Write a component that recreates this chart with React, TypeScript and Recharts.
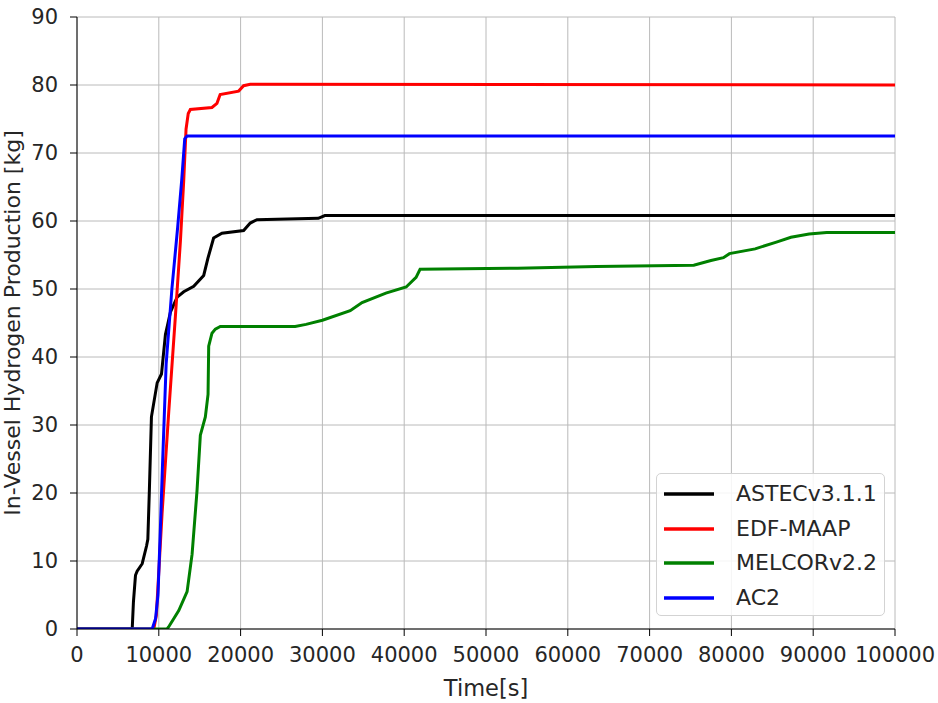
import React from 'react';
import { LineChart, Line, XAxis, YAxis, CartesianGrid, Legend } from 'recharts';

const xTicks = [0, 10000, 20000, 30000, 40000, 50000, 60000, 70000, 80000, 90000, 100000];
const yTicks = [0, 10, 20, 30, 40, 50, 60, 70, 80, 90];

const astecTime = [0, 6750, 6900, 7150, 7350, 7970, 8500, 8660, 8850, 9100, 9800, 10330, 10810, 11420, 12240, 13050, 14270, 15490, 16000, 16700, 17720, 20370, 21180, 22000, 29500, 30300, 100000];
const astecH2 = [0, 0, 4, 7.9, 8.5, 9.6, 12.2, 13.2, 20.5, 31.2, 36.2, 37.5, 43.3, 46.6, 48.8, 49.6, 50.4, 52, 54.5, 57.5, 58.2, 58.6, 59.7, 60.2, 60.4, 60.8, 60.8];

const maapTime = [0, 9390, 9700, 10400, 11220, 12030, 12640, 13050, 13330, 13600, 13860, 16500, 17110, 17500, 19760, 20370, 21180, 100000];
const maapH2 = [0, 0, 2, 17, 32, 46, 57, 66, 73.5, 75.8, 76.4, 76.7, 77.3, 78.6, 79.1, 79.9, 80.1, 80];

const melcorTime = [0, 11000, 11200, 12440, 13460, 14070, 14670, 15080, 15690, 16020, 16100, 16500, 16910, 17520, 26670, 28000, 30000, 33400, 34850, 37760, 40240, 41450, 41940, 53830, 63530, 75400, 77500, 79030, 79760, 82900, 85500, 87280, 89500, 91650, 100000];
const melcorH2 = [0, 0, 0.3, 2.7, 5.5, 11, 20.3, 28.5, 31.2, 34.5, 41.6, 43.5, 44.1, 44.5, 44.5, 44.8, 45.4, 46.8, 48.0, 49.4, 50.3, 51.7, 52.9, 53.05, 53.3, 53.5, 54.2, 54.6, 55.2, 55.9, 56.9, 57.6, 58.1, 58.3, 58.3];

const ac2Time = [0, 9190, 9600, 9900, 10200, 10450, 10900, 11600, 12300, 12800, 13170, 13450, 100000];
const ac2H2 = [0, 0, 1.5, 5, 15, 24, 39, 50, 59, 66, 72.1, 72.5, 72.5];

const seriesNames = ['ASTECv3.1.1', 'EDF-MAAP', 'MELCORv2.2', 'AC2'];
const seriesColors = ['#000000', '#ff0000', '#008000', '#0000ff'];

const build = (t: number[], h: number[]) => t.map((v, i) => ({ t: v, h: h[i] }));
const seriesData = [
  build(astecTime, astecH2),
  build(maapTime, maapH2),
  build(melcorTime, melcorH2),
  build(ac2Time, ac2H2),
];

const FONT = 'DejaVu Sans';
const TXT = '#262626';

const LegendBox = () => (
  <div
    style={{
      position: 'absolute',
      left: 656,
      top: 473,
      width: 229,
      height: 143,
      border: '1px solid #d3d3d3',
      borderRadius: 5,
      background: 'rgba(255,255,255,0.85)',
      paddingTop: 3,
      boxSizing: 'border-box',
      fontFamily: FONT,
      fontSize: 22,
      color: TXT,
    }}
  >
    {seriesNames.map((n, i) => (
      <div key={n} style={{ height: 34.5, display: 'flex', alignItems: 'center' }}>
        <svg width={73} height={10} style={{ marginLeft: 6 }}>
          <line x1={1} y1={5} x2={51} y2={5} stroke={seriesColors[i]} strokeWidth={3.5} />
        </svg>
        <span style={{ lineHeight: '22px' }}>{n}</span>
      </div>
    ))}
  </div>
);

export default function App() {
  return (
    <div style={{ position: 'absolute', left: 0, top: 0, width: 938, height: 703, background: '#fff' }}>
      <LineChart width={938} height={703} margin={{ top: 17, right: 43, bottom: 0, left: 0 }}>
        <CartesianGrid stroke="#bababa" strokeWidth={1} verticalValues={xTicks} horizontalValues={yTicks} />
        <XAxis
          dataKey="t"
          type="number"
          domain={[0, 100000]}
          ticks={xTicks}
          interval={0}
          height={74}
          tickSize={7}
          tickMargin={11}
          stroke="#000"
          tick={{ fill: TXT, fontSize: 21, fontFamily: FONT }}
          allowDataOverflow
          label={{
            content: (p: any) => {
              const vb = p.viewBox || {};
              const cx = (vb.x ?? 77) + (vb.width ?? 818) / 2;
              return (
                <text x={cx} y={696} textAnchor="middle" fill={TXT} fontSize={22.5} fontFamily={FONT}>
                  Time[s]
                </text>
              );
            },
          }}
        />
        <XAxis xAxisId="top" orientation="top" type="number" domain={[0, 100000]} height={0} tick={false} tickLine={false} stroke="#000" />
        <YAxis
          type="number"
          domain={[0, 90]}
          ticks={yTicks}
          interval={0}
          width={77}
          tickSize={7}
          tickMargin={12}
          stroke="#000"
          tick={{ fill: TXT, fontSize: 21, fontFamily: FONT }}
          allowDataOverflow
          label={{
            content: (p: any) => {
              const vb = p.viewBox || {};
              const cy = (vb.y ?? 17) + (vb.height ?? 612) / 2;
              return (
                <text
                  x={12}
                  y={cy}
                  transform={`rotate(-90, 12, ${cy})`}
                  textAnchor="middle"
                  dominantBaseline="central"
                  fill={TXT}
                  fontSize={22}
                  fontFamily={FONT}
                >
                  In-Vessel Hydrogen Production [kg]
                </text>
              );
            },
          }}
        />
        <YAxis yAxisId="right" orientation="right" type="number" domain={[0, 90]} width={0} tick={false} tickLine={false} stroke="#000" />
        {seriesData.map((d, i) => (
          <Line
            key={seriesNames[i]}
            data={d}
            dataKey="h"
            name={seriesNames[i]}
            type="linear"
            stroke={seriesColors[i]}
            strokeWidth={3}
            dot={false}
            activeDot={false}
            isAnimationActive={false}
          />
        ))}
        <Legend content={() => <LegendBox />} wrapperStyle={{ position: 'absolute', left: 0, top: 0, width: 0, height: 0 }} />
      </LineChart>
    </div>
  );
}
